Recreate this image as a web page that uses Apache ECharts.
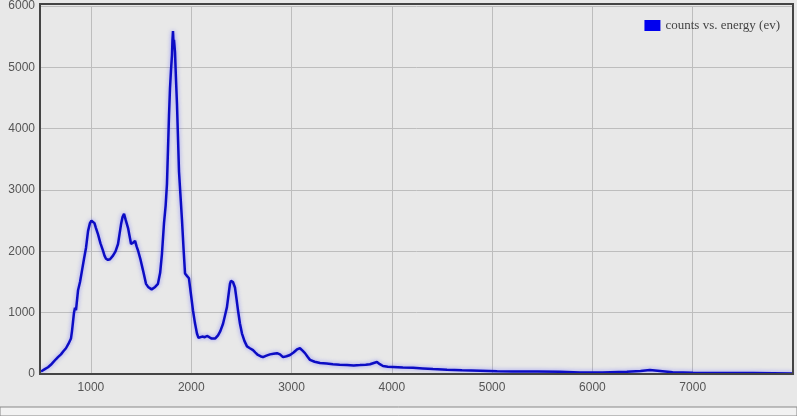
<!DOCTYPE html>
<html>
<head>
<meta charset="utf-8">
<script src="https://cdn.jsdelivr.net/npm/echarts@6/dist/echarts.min.js"></script>
<style>
  html, body { margin: 0; padding: 0; background: #f2f2f2; }
  #chart { width: 797px; height: 416px; }
</style>
</head>
<body>
<div id="chart"></div>
<script>
// energy (ev) and counts
const energy = [502, 540, 572, 600, 622, 650, 671, 690, 701, 725, 751, 775, 801, 811, 821, 831, 841, 851, 871, 891, 911, 931, 951, 971, 990, 1005, 1020, 1035, 1050, 1070, 1095, 1120, 1135, 1150, 1170, 1190, 1205, 1220, 1245, 1270, 1285, 1300, 1315, 1330, 1345, 1370, 1385, 1400, 1420, 1440, 1455, 1470, 1495, 1519, 1549, 1570, 1589, 1605, 1619, 1640, 1668, 1690, 1708, 1728, 1745, 1758, 1768, 1778, 1788, 1798, 1808, 1813, 1818, 1823, 1828, 1838, 1848, 1858, 1868, 1878, 1893, 1908, 1923, 1938, 1957, 1977, 1997, 2017, 2037, 2057, 2072, 2087, 2110, 2135, 2157, 2180, 2200, 2217, 2240, 2267, 2290, 2317, 2336, 2356, 2371, 2386, 2396, 2406, 2416, 2436, 2451, 2466, 2486, 2506, 2530, 2556, 2585, 2616, 2640, 2665, 2690, 2715, 2750, 2785, 2820, 2855, 2885, 2915, 2950, 2985, 3020, 3054, 3070, 3084, 3110, 3134, 3160, 3184, 3230, 3284, 3350, 3413, 3480, 3553, 3620, 3682, 3740, 3782, 3820, 3852, 3880, 3912, 3960, 4011, 4110, 4211, 4310, 4410, 4550, 4700, 4879, 5050, 5208, 5450, 5676, 5876, 6100, 6344, 6480, 6573, 6673, 6800, 7002, 7300, 7600, 8000];
const counts = [40, 80, 110, 150, 190, 240, 275, 290, 320, 370, 420, 490, 580, 700, 850, 1000, 1080, 1040, 1360, 1500, 1690, 1880, 2060, 2330, 2460, 2500, 2530, 2460, 2380, 2280, 2130, 2010, 1930, 1880, 1860, 1870, 1890, 1930, 2000, 2120, 2280, 2440, 2560, 2610, 2520, 2380, 2250, 2120, 2140, 2170, 2080, 2010, 1860, 1690, 1470, 1420, 1400, 1380, 1390, 1420, 1470, 1650, 1960, 2450, 2750, 3100, 3650, 4200, 4650, 4950, 5200, 5450, 5590, 5400, 5450, 5250, 4800, 4390, 3850, 3300, 2900, 2500, 2050, 1640, 1600, 1560, 1300, 1040, 830, 660, 590, 580, 610, 600, 620, 600, 580, 550, 580, 630, 700, 820, 950, 1090, 1280, 1470, 1520, 1540, 1500, 1410, 1230, 1040, 820, 660, 540, 450, 420, 390, 350, 310, 290, 275, 300, 320, 330, 340, 320, 275, 290, 310, 350, 400, 420, 420, 380, 340, 280, 230, 200, 180, 170, 160, 150, 145, 140, 145, 150, 160, 180, 195, 160, 130, 120, 115, 105, 100, 90, 80, 70, 60, 55, 45, 40, 40, 35, 25, 25, 35, 50, 65, 50, 30, 20, 18, 15, 10];
const seriesName = "counts vs. energy (ev)";

const myChart = echarts.init(document.getElementById("chart"));

const options = {
  backgroundColor: "#e8e8e8",
  animation: false,
  graphic: [
    // lighter strip under the chart box
    {
      type: "rect",
      shape: { x: 0, y: 407, width: 797, height: 9 },
      style: { fill: "#f2f2f2", stroke: "#888", lineWidth: 1 },
      silent: true,
    },
    // dark frame round the plot
    {
      type: "rect",
      shape: { x: 40, y: 4, width: 753, height: 370 },
      style: { fill: null, stroke: "#444", lineWidth: 2 },
      z: 100,
      silent: true,
    },
  ],
  legend: {
    data: [seriesName],
    right: 12,
    top: 14,
    icon: "rect",
    itemWidth: 16,
    itemHeight: 11,
    itemGap: 5,
    textStyle: {
      fontFamily: "Liberation Serif",
      fontSize: 13,
      color: "#444",
    },
  },
  grid: {
    left: 40,
    right: 4,
    top: 4,
    bottom: 42,
    show: true,
    borderWidth: 0,
    backgroundColor: "#e8e8e8",
  },
  xAxis: {
    type: "value",
    min: 492,
    max: 8000,
    splitNumber: 8,
    axisLine: { show: false },
    axisTick: { show: false },
    axisLabel: {
      showMinLabel: false,
      showMaxLabel: false,
      formatter: (v) => String(v),
      color: "#555",
      fontFamily: "Liberation Sans",
      fontSize: 12,
      margin: 8,
    },
    splitLine: { show: true, lineStyle: { color: "#bdbdbd", width: 1 } },
  },
  yAxis: {
    type: "value",
    min: 0,
    max: 6000,
    interval: 1000,
    axisLine: { show: false },
    axisTick: { show: false },
    axisLabel: {
      formatter: (v) => String(v),
      color: "#555",
      fontFamily: "Liberation Sans",
      fontSize: 12,
      margin: 5,
    },
    splitLine: { show: true, lineStyle: { color: "#bdbdbd", width: 1 } },
  },
  series: [
    {
      name: seriesName,
      type: "line",
      data: energy.map((e, i) => [e, counts[i]]),
      showSymbol: false,
      symbol: "none",
      itemStyle: { color: "#0000ee" },
      lineStyle: {
        color: "#0c0cc4",
        width: 2.5,
        shadowColor: "rgba(90, 90, 255, 0.6)",
        shadowBlur: 4,
      },
    },
  ],
};

myChart.setOption(options);
</script>
</body>
</html>
